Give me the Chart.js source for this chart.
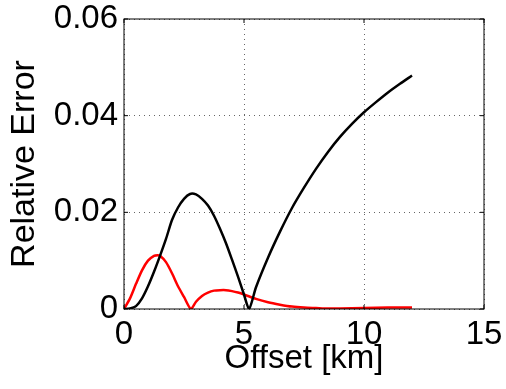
<!DOCTYPE html>
<html>
<head>
<meta charset="utf-8">
<script src="https://cdn.jsdelivr.net/npm/chart.js@4.4.1/dist/chart.umd.min.js"></script>
<style>
  html, body { margin: 0; padding: 0; background: #fff; }
  #wrap { width: 506px; height: 389px; }
</style>
</head>
<body>
<div id="wrap"><canvas id="errChart" width="506" height="389"></canvas></div>
<script>
// black curve
const blackX = [0, 0.25, 0.5, 0.75, 1.0, 1.25, 1.5, 1.75, 2.0, 2.25, 2.5, 2.75, 3.0, 3.25, 3.5, 3.75, 4.0, 4.25, 4.5, 4.75, 5.0, 5.21,
                5.5, 6.0, 6.5, 7.0, 7.5, 8.0, 8.5, 9.0, 9.5, 10.0, 10.5, 11.0, 11.5, 12.0];
const blackY = [0, 0.0001, 0.0006, 0.0022, 0.0047, 0.0077, 0.0110, 0.0145, 0.0184, 0.0210, 0.0228, 0.0238, 0.0237, 0.0228, 0.0214, 0.0193, 0.0166, 0.0136, 0.0102, 0.0067, 0.0030, 0,
                0.0045, 0.0106, 0.0160, 0.0209, 0.0251, 0.0290, 0.0325, 0.0356, 0.0383, 0.0407, 0.0428, 0.0448, 0.0466, 0.0483];

// red curve
const redX = [0, 0.25, 0.5, 0.75, 1.0, 1.25, 1.4, 1.5, 1.75, 2.0, 2.25, 2.5, 2.79,
              3.0, 3.25, 3.5, 3.75, 4.0, 4.25, 4.5, 4.75, 5.0, 5.5, 6.0, 6.5, 7.0, 7.5, 8.0, 8.5, 9.0, 10.0, 11.0, 12.0];
const redY = [0, 0.0022, 0.0052, 0.0080, 0.0100, 0.0110, 0.0111, 0.0110, 0.0097, 0.0074, 0.0047, 0.0025, 0,
              0.0015, 0.0027, 0.0034, 0.0038, 0.0039, 0.0039, 0.0037, 0.0034, 0.0030, 0.0021, 0.0014, 0.0009, 0.0005, 0.0003, 0.0002, 0.0001, 0.0001, 0.0002, 0.0003, 0.0003];

const xTicks = [0, 5, 10, 15];
const yTicks = [0, 0.02, 0.04, 0.06];
const yTickLabels = ['0', '0.02', '0.04', '0.06'];

const FAMILY = '"Liberation Sans", Arial, sans-serif';
const TICK_FONT = { family: FAMILY, size: 33, lineHeight: 1 };

function toPoints(xs, ys) {
    return xs.map((x, i) => ({ x: x, y: ys[i] }));
}

// MATLAB-like box with small inward ticks
const boxPlugin = {
    id: 'box',
    afterDatasetsDraw(chart) {
        const { ctx, chartArea: a, scales } = chart;
        ctx.save();
        ctx.strokeStyle = '#000';
        ctx.lineWidth = 1;
        ctx.beginPath();
        scales.x.ticks.forEach(t => {
            const px = scales.x.getPixelForValue(t.value);
            ctx.moveTo(px, a.bottom); ctx.lineTo(px, a.bottom - 4);
            ctx.moveTo(px, a.top); ctx.lineTo(px, a.top + 4);
        });
        scales.y.ticks.forEach(t => {
            const py = scales.y.getPixelForValue(t.value);
            ctx.moveTo(a.left, py); ctx.lineTo(a.left + 4, py);
            ctx.moveTo(a.right, py); ctx.lineTo(a.right - 4, py);
        });
        ctx.stroke();
        ctx.strokeRect(a.left, a.top, a.right - a.left, a.bottom - a.top);
        ctx.restore();
    }
};

const ctx = document.getElementById('errChart').getContext('2d');
new Chart(ctx, {
    type: 'line',
    data: {
        datasets: [{
            data: toPoints(blackX, blackY),
            borderColor: '#000000',
            borderWidth: 2.5,
            pointRadius: 0,
            tension: 0.25
        }, {
            data: toPoints(redX, redY),
            borderColor: '#ff0000',
            borderWidth: 2.5,
            pointRadius: 0,
            tension: 0.25
        }]
    },
    options: {
        responsive: false,
        animation: false,
        devicePixelRatio: 1,
        layout: { padding: { top: 19, right: 22, left: 0, bottom: 0 } },
        plugins: {
            legend: { display: false },
            tooltip: { enabled: false }
        },
        scales: {
            x: {
                type: 'linear',
                min: 0,
                max: 15,
                afterBuildTicks: s => { s.ticks = xTicks.map(v => ({ value: v })); },
                afterFit: s => { s.height = 80; s.paddingLeft = 0; s.paddingRight = 0; },
                ticks: { font: TICK_FONT, color: '#000', padding: 9, maxRotation: 0, autoSkip: false },
                grid: { color: '#666', lineWidth: 1, drawTicks: false },
                border: { display: false, dash: [1, 4] },
                title: {
                    display: true, text: 'Offset [km]', color: '#000',
                    font: { family: FAMILY, size: 33, lineHeight: 1 },
                    padding: { top: 0, bottom: 14 }
                }
            },
            y: {
                type: 'linear',
                min: 0,
                max: 0.06,
                afterBuildTicks: s => { s.ticks = yTicks.map(v => ({ value: v })); },
                afterFit: s => { s.width = 124; s.paddingTop = 0; s.paddingBottom = 0; },
                ticks: {
                    font: TICK_FONT, color: '#000', padding: 6, autoSkip: false,
                    callback: (v, i) => yTickLabels[i]
                },
                grid: { color: '#666', lineWidth: 1, drawTicks: false },
                border: { display: false, dash: [1, 4] },
                title: {
                    display: true, text: 'Relative Error', color: '#000',
                    font: { family: FAMILY, size: 34, lineHeight: 1 },
                    padding: { top: 8, bottom: 0 }
                }
            }
        }
    },
    plugins: [boxPlugin]
});
</script>
</body>
</html>
